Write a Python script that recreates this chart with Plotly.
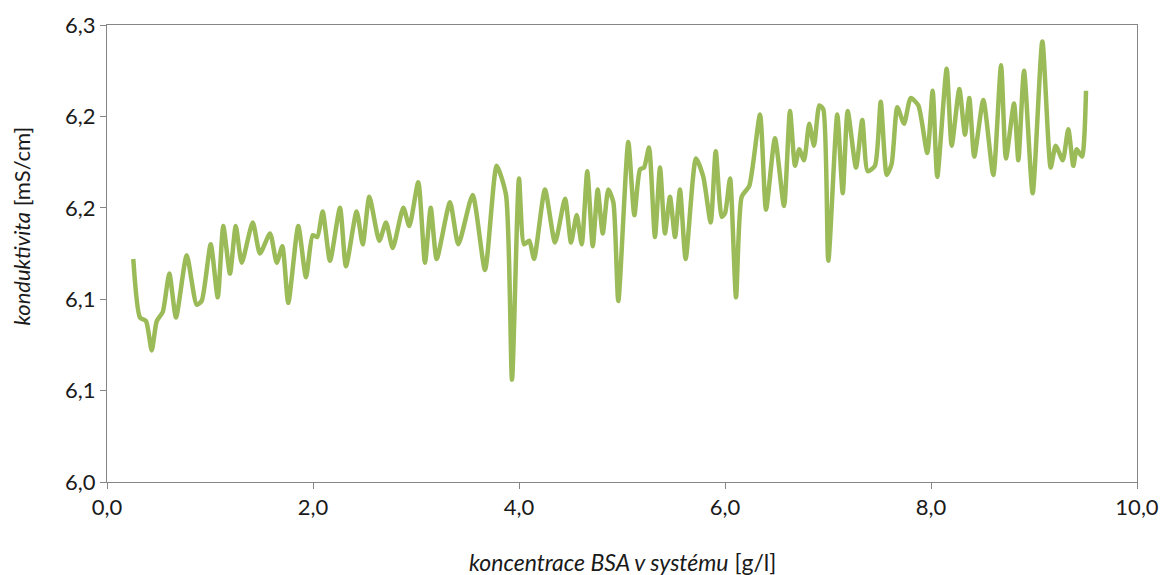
import plotly.graph_objects as go

# BSA concentration in the system [g/l]
concentration = [
    0.255, 0.320, 0.379, 0.434, 0.483, 0.541, 0.605, 0.670, 0.774, 0.871,
    0.919, 1.007, 1.075, 1.129, 1.194, 1.250, 1.308, 1.415, 1.485, 1.583,
    1.648, 1.702, 1.760, 1.857, 1.932, 1.997, 2.042, 2.094, 2.165, 2.262,
    2.320, 2.424, 2.483, 2.547, 2.644, 2.709, 2.774, 2.877, 2.935, 3.022,
    3.087, 3.143, 3.201, 3.330, 3.411, 3.550, 3.670, 3.783, 3.874, 3.932,
    4.000, 4.049, 4.100, 4.146, 4.252, 4.350, 4.447, 4.505, 4.560, 4.609,
    4.663, 4.716, 4.764, 4.813, 4.867, 4.916, 4.964, 5.061, 5.120, 5.175,
    5.214, 5.262, 5.320, 5.369, 5.417, 5.466, 5.515, 5.563, 5.618, 5.718,
    5.789, 5.861, 5.910, 5.968, 6.000, 6.049, 6.107, 6.162, 6.236, 6.340,
    6.398, 6.485, 6.573, 6.631, 6.680, 6.721, 6.767, 6.818, 6.864, 6.916,
    6.954, 7.003, 7.090, 7.143, 7.191, 7.272, 7.333, 7.385, 7.456, 7.512,
    7.570, 7.618, 7.673, 7.738, 7.803, 7.877, 7.964, 8.016, 8.061, 8.152,
    8.201, 8.275, 8.330, 8.372, 8.420, 8.508, 8.605, 8.680, 8.728, 8.806,
    8.848, 8.903, 8.987, 9.081, 9.162, 9.211, 9.279, 9.333, 9.382, 9.415,
    9.466, 9.505,
]

# conductivity [mS/cm]
conductivity = [
    6.122, 6.090, 6.088, 6.072, 6.088, 6.093, 6.114, 6.090, 6.124, 6.097,
    6.099, 6.130, 6.101, 6.140, 6.114, 6.140, 6.120, 6.142, 6.125, 6.136,
    6.120, 6.129, 6.098, 6.140, 6.112, 6.135, 6.134, 6.148, 6.121, 6.150,
    6.118, 6.148, 6.130, 6.156, 6.132, 6.142, 6.128, 6.150, 6.140, 6.164,
    6.120, 6.150, 6.122, 6.153, 6.130, 6.157, 6.116, 6.173, 6.157, 6.056,
    6.166, 6.130, 6.132, 6.122, 6.160, 6.131, 6.155, 6.131, 6.146, 6.130,
    6.170, 6.129, 6.160, 6.136, 6.160, 6.153, 6.099, 6.186, 6.146, 6.171,
    6.172, 6.183, 6.134, 6.172, 6.136, 6.156, 6.134, 6.160, 6.122, 6.177,
    6.167, 6.142, 6.181, 6.145, 6.147, 6.166, 6.101, 6.156, 6.162, 6.201,
    6.149, 6.188, 6.151, 6.203, 6.173, 6.182, 6.176, 6.196, 6.184, 6.206,
    6.204, 6.121, 6.201, 6.158, 6.203, 6.172, 6.198, 6.170, 6.173, 6.208,
    6.168, 6.174, 6.205, 6.196, 6.210, 6.206, 6.180, 6.214, 6.167, 6.226,
    6.184, 6.215, 6.190, 6.210, 6.178, 6.209, 6.168, 6.228, 6.177, 6.207,
    6.176, 6.225, 6.158, 6.241, 6.172, 6.184, 6.176, 6.193, 6.173, 6.182,
    6.178, 6.214,
]

x_tick_values = [0, 2, 4, 6, 8, 10]
x_tick_labels = ["0,0", "2,0", "4,0", "6,0", "8,0", "10,0"]
y_tick_values = [6.00, 6.05, 6.10, 6.15, 6.20, 6.25]
y_tick_labels = ["6,0", "6,1", "6,1", "6,2", "6,2", "6,3"]

x_title = "<i>koncentrace BSA v systému</i> [g/l]"
y_title = "<i>konduktivita</i> [mS/cm]"

font_family = "Lato, 'Open Sans', sans-serif"
axis_color = "#868686"

fig = go.Figure()
fig.add_trace(go.Scatter(
    x=concentration,
    y=conductivity,
    mode="lines",
    line=dict(color="#9BBB59", width=4.5, shape="spline", smoothing=0.6),
    showlegend=False,
    hoverinfo="x+y",
))

axis_common = dict(
    ticks="outside",
    ticklen=6,
    tickcolor=axis_color,
    showline=True,
    linecolor=axis_color,
    linewidth=1,
    mirror=True,
    showgrid=False,
    zeroline=False,
    tickfont=dict(size=22),
    automargin=False,
)

fig.update_layout(
    width=1162,
    height=575,
    margin=dict(l=107, r=25, t=25, b=93, autoexpand=False),
    paper_bgcolor="white",
    plot_bgcolor="white",
    font=dict(family=font_family, size=22, color="#1a1a1a"),
    xaxis=dict(range=[0, 10], tickvals=x_tick_values, ticktext=x_tick_labels,
               **axis_common),
    yaxis=dict(range=[6.0, 6.25], tickvals=y_tick_values, ticktext=y_tick_labels,
               **axis_common),
    annotations=[
        dict(text=x_title, xref="paper", yref="paper", x=0.5, y=-0.176,
             xanchor="center", yanchor="middle", showarrow=False,
             font=dict(size=23)),
        dict(text=y_title, xref="paper", yref="paper", x=-0.083, y=0.56,
             xanchor="center", yanchor="middle", textangle=-90, showarrow=False,
             font=dict(size=22)),
    ],
)

fig.write_html(
    "out.html",
    config={"displayModeBar": False},
    post_script="document.body.style.margin='0';document.body.style.overflow='hidden';",
)
